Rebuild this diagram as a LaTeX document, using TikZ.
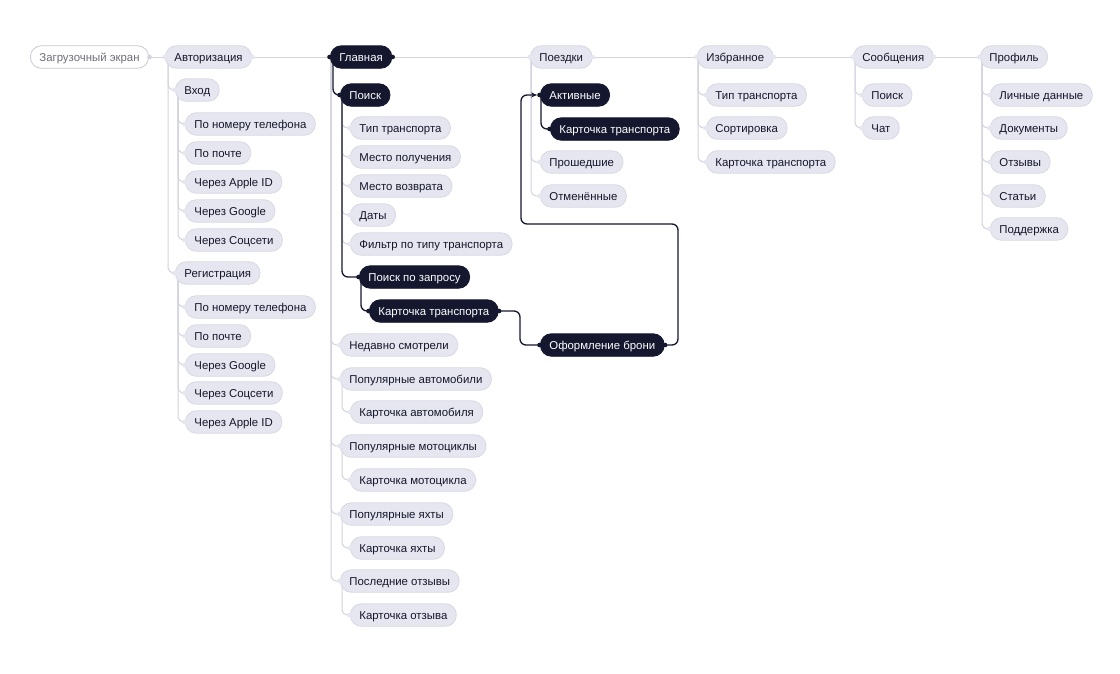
\documentclass[tikz,border=0pt]{standalone}
\usepackage{fontspec}
\setmainfont{Liberation Sans}
\usetikzlibrary{backgrounds,arrows.meta}
\definecolor{pillfill}{HTML}{E5E6EF}
\definecolor{pillborder}{HTML}{D8D9E4}
\definecolor{lineclr}{HTML}{D3D4DE}
\definecolor{darknode}{HTML}{15172F}
\definecolor{txt}{HTML}{15162A}
\definecolor{startborder}{HTML}{C8C9D3}
\definecolor{starttxt}{HTML}{6E6F7C}
\tikzset{
  base/.style={rounded corners=11pt, minimum height=22.5pt, inner xsep=9pt, inner ysep=0pt,
    anchor=west, font=\fontsize{11.4}{13}\selectfont, text height=10pt, text depth=2pt, line width=0.8pt},
  lt/.style={base, fill=pillfill, draw=pillborder, text=txt},
  dk/.style={base, fill=darknode, draw=darknode, text=white},
  st/.style={base, fill=white, draw=startborder, text=starttxt},
  conn/.style={draw=lineclr, line width=1pt, rounded corners=6pt},
  dconn/.style={draw=darknode, line width=1.3pt, rounded corners=6pt},
}
\begin{document}
\begin{tikzpicture}[x=1pt,y=-1pt]
\useasboundingbox (0,0) rectangle (1120,673);
% top row
\node[st] (start) at (30,57) {Загрузочный экран};
\node[lt] (auth) at (165,57) {Авторизация};
\node[dk] (main) at (330,57) {Главная};
\node[lt] (trips) at (530,57) {Поездки};
\node[lt] (fav) at (697,57) {Избранное};
\node[lt] (msg) at (853,57) {Сообщения};
\node[lt] (prof) at (980,57) {Профиль};
% auth
\node[lt] (vhod) at (175,90) {Вход};
\node[lt] (v1) at (185,124) {По номеру телефона};
\node[lt] (v2) at (185,153) {По почте};
\node[lt] (v3) at (185,182) {Через Apple ID};
\node[lt] (v4) at (185,211) {Через Google};
\node[lt] (v5) at (185,240) {Через Соцсети};
\node[lt] (reg) at (175,273) {Регистрация};
\node[lt] (r1) at (185,307) {По номеру телефона};
\node[lt] (r2) at (185,336) {По почте};
\node[lt] (r3) at (185,365) {Через Google};
\node[lt] (r4) at (185,393) {Через Соцсети};
\node[lt] (r5) at (185,422) {Через Apple ID};
% main
\node[dk] (poisk) at (340,95) {Поиск};
\node[lt] (p1) at (350,128) {Тип транспорта};
\node[lt] (p2) at (350,157) {Место получения};
\node[lt] (p3) at (350,186) {Место возврата};
\node[lt] (p4) at (350,215) {Даты};
\node[lt] (p5) at (350,244) {Фильтр по типу транспорта};
\node[dk] (pz) at (359,277) {Поиск по запросу};
\node[dk] (kt) at (369,311) {Карточка транспорта};
\node[dk] (oform) at (540,345) {Оформление брони};
\node[lt] (n1) at (340,345) {Недавно смотрели};
\node[lt] (pa) at (340,379) {Популярные автомобили};
\node[lt] (ka) at (350,412) {Карточка автомобиля};
\node[lt] (pm) at (340,446) {Популярные мотоциклы};
\node[lt] (km) at (350,480) {Карточка мотоцикла};
\node[lt] (py) at (340,514) {Популярные яхты};
\node[lt] (ky) at (350,548) {Карточка яхты};
\node[lt] (po) at (340,581) {Последние отзывы};
\node[lt] (ko) at (350,615) {Карточка отзыва};
% trips
\node[dk] (akt) at (540,95) {Активные};
\node[dk] (akt1) at (550,129) {Карточка транспорта};
\node[lt] (prs) at (540,162) {Прошедшие};
\node[lt] (otm) at (540,196) {Отменённые};
% fav
\node[lt] (f1) at (706,95) {Тип транспорта};
\node[lt] (f2) at (706,128) {Сортировка};
\node[lt] (f3) at (706,162) {Карточка транспорта};
% msg
\node[lt] (m1) at (862,95) {Поиск};
\node[lt] (m2) at (862,128) {Чат};
% profile
\node[lt] (q1) at (990,95) {Личные данные};
\node[lt] (q2) at (990,128) {Документы};
\node[lt] (q3) at (990,162) {Отзывы};
\node[lt] (q4) at (990,196) {Статьи};
\node[lt] (q5) at (990,229) {Поддержка};
% small attachment nubs
\foreach \n in {auth,trips,fav,msg,prof,vhod,v1,v2,v3,v4,v5,reg,r1,r2,r3,r4,r5,p1,p2,p3,p4,p5,n1,pa,ka,pm,km,py,ky,po,ko,prs,otm,f1,f2,f3,m1,m2,q1,q2,q3,q4,q5}
  \fill[pillfill] ([xshift=-0.5pt]\n.west) circle (2.3pt);
\foreach \n in {auth,trips,fav,msg}
  \fill[pillfill] ([xshift=0.5pt]\n.east) circle (2.3pt);
\foreach \n in {main,poisk,pz,kt,oform,akt,akt1}
  \fill[darknode] ([xshift=-0.5pt]\n.west) circle (2.3pt);
\foreach \n in {main,kt,oform}
  \fill[darknode] ([xshift=0.5pt]\n.east) circle (2.3pt);
\fill[lineclr] ([xshift=0.5pt]start.east) circle (2.3pt);
% route coordinates
\coordinate (k1) at (520,328);
\coordinate (a1) at (678,224);
\coordinate (a2) at (521,224);
\begin{scope}[on background layer]
\fill[white] (0,0) rectangle (1120,673);
\draw[conn] (start.east) -- (auth.west);
\draw[conn] (auth.east) -- (main.west);
\draw[conn] (main.east) -- (trips.west);
\draw[conn] (trips.east) -- (fav.west);
\draw[conn] (fav.east) -- (msg.west);
\draw[conn] (msg.east) -- (prof.west);
\foreach \c in {vhod,reg} \draw[conn] ([xshift=3pt]auth.west) |- (\c.west);
\foreach \c in {v1,v2,v3,v4,v5} \draw[conn] ([xshift=3pt]vhod.west) |- (\c.west);
\foreach \c in {r1,r2,r3,r4,r5} \draw[conn] ([xshift=3pt]reg.west) |- (\c.west);
\foreach \c in {n1,pa,pm,py,po} \draw[conn] ([xshift=1pt]main.west) |- (\c.west);
\foreach \c in {p1,p2,p3,p4,p5} \draw[conn] ([xshift=2pt]poisk.west) |- (\c.west);
\draw[conn] ([xshift=2pt]pa.west) |- (ka.west);
\draw[conn] ([xshift=2pt]pm.west) |- (km.west);
\draw[conn] ([xshift=2pt]py.west) |- (ky.west);
\draw[conn] ([xshift=2pt]po.west) |- (ko.west);
\foreach \c in {akt,prs,otm} \draw[conn] ([xshift=1pt]trips.west) |- (\c.west);
\foreach \c in {f1,f2,f3} \draw[conn] ([xshift=1pt]fav.west) |- (\c.west);
\foreach \c in {m1,m2} \draw[conn] ([xshift=2pt]msg.west) |- (\c.west);
\foreach \c in {q1,q2,q3,q4,q5} \draw[conn] ([xshift=2pt]prof.west) |- (\c.west);
% highlighted path
\draw[dconn] ([xshift=3pt]main.west) |- (poisk.west);
\draw[dconn] ([xshift=2pt]poisk.west) |- (pz.west);
\draw[dconn] ([xshift=2pt]pz.west) |- (kt.west);
\draw[dconn] (kt.east) -| (k1) |- (oform.west);
\draw[dconn] ([xshift=1pt]akt.west) |- (akt1.west);
\end{scope}
\draw[dconn, -{Stealth[length=6pt,width=5pt]}] (oform.east) -| (a1) -- (a2) |- ([xshift=-3pt]akt.west);
\end{tikzpicture}
\end{document}
